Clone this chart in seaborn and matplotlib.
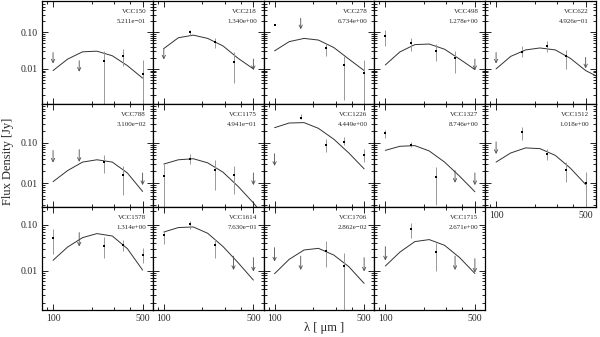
import numpy as np
import pandas as pd
import matplotlib
matplotlib.use('Agg')
import matplotlib.pyplot as plt
import matplotlib.ticker as mticker
import seaborn as sns

nan = np.nan

names = ['VCC150', 'VCC218', 'VCC278', 'VCC498', 'VCC622',
         'VCC788', 'VCC1175', 'VCC1226', 'VCC1327', 'VCC1512',
         'VCC1578', 'VCC1614', 'VCC1706', 'VCC1715']
masses = ['5.211e−01', '1.340e+00', '6.734e+00', '1.278e+00', '4.926e−01',
          '3.100e−02', '4.941e−01', '4.449e+00', '8.746e+00', '1.018e+00',
          '1.314e+00', '7.630e−01', '2.862e−02', '2.671e+00']

# Herschel bands (micron)
wave = [100, 160, 250, 350, 500]

# detections (nan = not detected)
flux = [
    [nan, nan, 0.0161, 0.0228, 0.0072],
    [nan, 0.1026, 0.054, 0.0157, nan],
    [0.161, nan, 0.038, 0.0128, 0.0077],
    [0.078, 0.052, 0.031, 0.0194, nan],
    [nan, 0.0291, 0.042, 0.0219, nan],
    [nan, nan, 0.0335, 0.0164, nan],
    [0.015, 0.0405, 0.0215, 0.0161, nan],
    [nan, 0.42, 0.087, 0.106, 0.051],
    [0.171, 0.0906, 0.0141, nan, nan],
    [nan, 0.181, 0.0519, 0.0215, 0.010],
    [0.052, nan, 0.0343, 0.0355, 0.0215],
    [0.0585, 0.101, 0.0355, nan, nan],
    [nan, nan, 0.0267, 0.0126, nan],
    [nan, 0.082, 0.0253, nan, nan],
]
flux_lo = [
    [nan, nan, 1e-4, 0.0123, 1e-4],
    [nan, 0.086, 0.038, 0.004, nan],
    [0.161, nan, 0.0228, 0.0014, 1e-4],
    [0.042, 0.031, 0.0161, 0.0078, nan],
    [nan, 0.0214, 0.028, 0.010, nan],
    [nan, nan, 0.0181, 0.0051, nan],
    [1e-4, 0.0292, 0.0069, 0.0054, nan],
    [nan, 0.38, 0.0596, 0.087, 0.0335],
    [0.133, 0.079, 0.003, nan, nan],
    [nan, 0.116, 0.0367, 0.0106, 1e-4],
    [0.0226, nan, 0.0192, 0.0267, 0.0149],
    [0.0373, 0.082, 0.0192, nan, nan],
    [nan, nan, 0.0122, 1e-4, nan],
    [nan, 0.052, 0.0098, nan, nan],
]
flux_hi = [
    [nan, nan, 0.031, 0.0348, 0.0177],
    [nan, 0.118, 0.071, 0.028, nan],
    [0.161, nan, 0.052, 0.0228, 0.0174],
    [0.113, 0.071, 0.0468, 0.031, nan],
    [nan, 0.041, 0.0574, 0.0329, nan],
    [nan, nan, 0.049, 0.0275, nan],
    [0.030, 0.054, 0.0367, 0.0275, nan],
    [nan, 0.52, 0.123, 0.141, 0.072],
    [0.206, 0.106, 0.025, nan, nan],
    [nan, 0.24, 0.069, 0.0335, 0.0195],
    [0.082, nan, 0.055, 0.0462, 0.0316],
    [0.0726, 0.12, 0.048, nan, nan],
    [nan, nan, 0.044, 0.0246, nan],
    [nan, 0.107, 0.0406, nan, nan],
]
# upper limits
upper = [
    [0.028, 0.0167, nan, nan, nan],
    [0.036, nan, nan, nan, 0.0185],
    [nan, 0.24, nan, nan, nan],
    [nan, nan, nan, nan, 0.0185],
    [0.028, nan, nan, nan, 0.0206],
    [0.065, 0.068, nan, nan, 0.0181],
    [nan, nan, nan, nan, 0.0181],
    [0.054, nan, nan, nan, nan],
    [nan, nan, nan, 0.0207, 0.0181],
    [0.106, nan, nan, nan, nan],
    [nan, 0.067, nan, nan, nan],
    [nan, nan, nan, 0.0207, 0.0192],
    [0.0316, 0.0207, nan, nan, 0.0192],
    [0.0333, nan, nan, 0.0207, 0.0182],
]

# fitted model curves
model_wave = [100, 130, 170, 220, 290, 380, 500, 600]
model = [
    [0.0090, 0.0185, 0.0292, 0.0304, 0.0228, 0.0123, 0.0056, nan],
    [0.0359, 0.0708, 0.0832, 0.0678, 0.0422, 0.0194, 0.0100, nan],
    [0.031, 0.0553, 0.0678, 0.0611, 0.0382, 0.0185, 0.0090, nan],
    [0.0128, 0.0291, 0.0459, 0.0476, 0.0344, 0.0185, 0.0096, nan],
    [0.0100, 0.0219, 0.0329, 0.0372, 0.0329, 0.0194, 0.0090, 0.0065],
    [0.0110, 0.0207, 0.0335, 0.0382, 0.0335, 0.0181, 0.0063, nan],
    [0.030, 0.0382, 0.0405, 0.0321, 0.0188, 0.0084, 0.0033, 0.0016],
    [0.237, 0.309, 0.316, 0.228, 0.123, 0.056, 0.0228, nan],
    [0.0653, 0.0822, 0.0855, 0.0631, 0.0335, 0.0150, 0.0062, nan],
    [0.0335, 0.0562, 0.075, 0.072, 0.049, 0.0237, 0.0094, nan],
    [0.0168, 0.0326, 0.0521, 0.0637, 0.0565, 0.0301, 0.0103, nan],
    [0.069, 0.0861, 0.0887, 0.0647, 0.0333, 0.0149, 0.00625, nan],
    [0.0086, 0.0176, 0.0281, 0.0305, 0.0218, 0.0122, 0.0053, nan],
    [0.0126, 0.0253, 0.0427, 0.0472, 0.0355, 0.0192, 0.0087, nan],
]

row_ylim = [(0.0011, 0.71), (0.0026, 0.91), (0.0014, 0.24)]
xlim = (82, 600)

sns.set_style('ticks')
plt.rcParams['font.family'] = ['Liberation Serif', 'DejaVu Serif']

fig, axes = plt.subplots(3, 5, figsize=(6, 3.37), dpi=100)
fig.subplots_adjust(left=0.07, right=0.993, top=0.997, bottom=0.08, wspace=0, hspace=0)
axes[2, 4].remove()

for i, name in enumerate(names):
    r, c = divmod(i, 5)
    ax = axes[r, c]
    ax.set_xscale('log')
    ax.set_yscale('log')

    mdf = pd.DataFrame({'wave': model_wave, 'flux': model[i]}).dropna()
    sns.lineplot(data=mdf, x='wave', y='flux', ax=ax, color='0.2', lw=0.7)

    det = pd.DataFrame({'wave': wave, 'flux': flux[i],
                        'lo': flux_lo[i], 'hi': flux_hi[i]}).dropna()
    ax.errorbar(det['wave'], det['flux'],
                yerr=[det['flux'] - det['lo'], det['hi'] - det['flux']],
                fmt='none', ecolor='0.6', elinewidth=0.7)
    sns.scatterplot(data=det, x='wave', y='flux', ax=ax, marker='s', s=4,
                    color='k', linewidth=0, zorder=3)

    for w, u in zip(wave, upper[i]):
        if not np.isnan(u):
            ax.annotate('', xy=(w, u * 0.5), xytext=(w, u),
                        arrowprops=dict(arrowstyle='->', color='0.3', lw=0.6,
                                        shrinkA=0, shrinkB=0, mutation_scale=6))

    ax.set_xlim(xlim)
    ax.set_ylim(row_ylim[r])
    ax.set_xlabel('')
    ax.set_ylabel('')

    ax.xaxis.set_major_locator(mticker.FixedLocator([100, 500]))
    ax.xaxis.set_major_formatter(mticker.FuncFormatter(lambda v, p: f'{v:.0f}'))
    ax.xaxis.set_minor_locator(mticker.LogLocator(base=10, subs=np.arange(2, 10), numticks=20))
    ax.xaxis.set_minor_formatter(mticker.NullFormatter())
    ax.yaxis.set_major_locator(mticker.FixedLocator([0.01, 0.1]))
    ax.yaxis.set_major_formatter(mticker.FuncFormatter(lambda v, p: f'{v:.2f}'))
    ax.yaxis.set_minor_locator(mticker.LogLocator(base=10, subs=np.arange(2, 10), numticks=20))
    ax.yaxis.set_minor_formatter(mticker.NullFormatter())

    ax.tick_params(which='both', direction='in', top=True, right=True,
                   labelsize=7, width=0.6, color='k')
    ax.tick_params(which='major', length=4, pad=3)
    ax.tick_params(which='minor', length=2)
    ax.tick_params(labelleft=(c == 0), labelbottom=(r == 2 or (r == 1 and c == 4)))
    for s in ax.spines.values():
        s.set_linewidth(0.9)
        s.set_color('k')

    ax.text(0.94, 0.895, name, transform=ax.transAxes, ha='right', va='center', fontsize=5)
    ax.text(0.94, 0.80, masses[i], transform=ax.transAxes, ha='right', va='center', fontsize=5)

fig.text(0.014, 0.52, 'Flux Density [Jy]', rotation=90, ha='center', va='center', fontsize=9)
fig.text(0.54, 0.027, 'λ [ μm ]', ha='center', va='center', fontsize=9)

fig.savefig('out.png', dpi=100)
